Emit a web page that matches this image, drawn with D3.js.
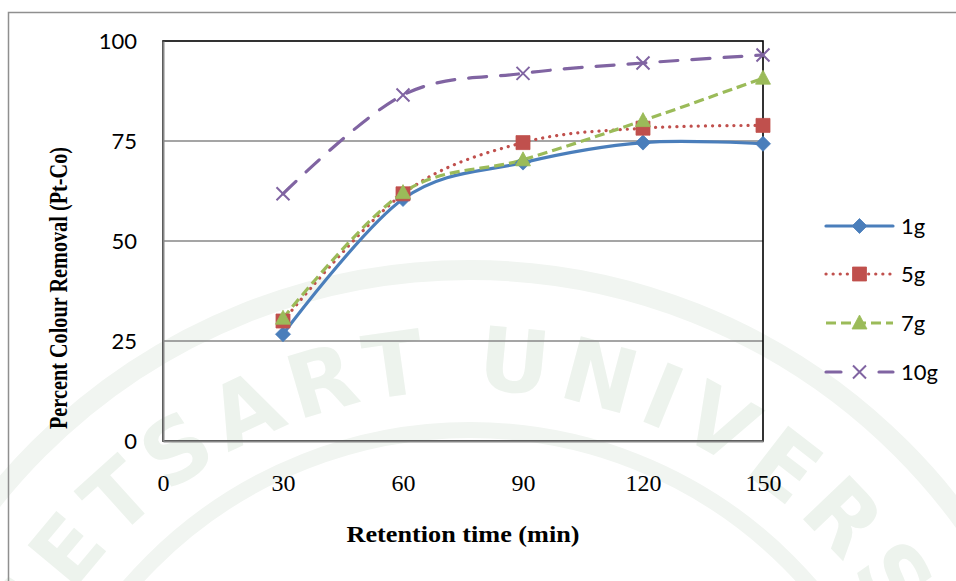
<!DOCTYPE html>
<html>
<head>
<meta charset="utf-8">
<script src="https://cdn.jsdelivr.net/npm/d3@7/dist/d3.min.js"></script>
<style>
  html, body { margin: 0; padding: 0; background: #fff; }
  svg { display: block; }
</style>
</head>
<body>
<svg id="chart" width="956" height="581"></svg>
<script>
// Retention time (min)
const times = [30, 60, 90, 120, 150];
// Percent colour removal for each adsorbent dose
const dose1g  = [26.7, 60.5, 69.6, 74.6, 74.3];
const dose5g  = [30.0, 61.8, 74.6, 78.2, 78.9];
const dose7g  = [30.7, 62.1, 70.3, 80.1, 90.7];
const dose10g = [61.8, 86.5, 91.9, 94.5, 96.5];
const seriesNames = ["1g", "5g", "7g", "10g"];
const xTicks = [0, 30, 60, 90, 120, 150];
const yTicks = [0, 25, 50, 75, 100];

const series = [
  { name: seriesNames[0], values: dose1g,  color: "#4a7ebb", dash: null,     cap: "round", marker: "diamond" },
  { name: seriesNames[1], values: dose5g,  color: "#c0504d", dash: "0.1 7",  cap: "round", marker: "square" },
  { name: seriesNames[2], values: dose7g,  color: "#9bbb59", dash: "10 5",   cap: "butt",  marker: "triangle" },
  { name: seriesNames[3], values: dose10g, color: "#8064a2", dash: "18 14",  cap: "round", marker: "x" }
];

const svg = d3.select("#chart");

// faint seal in the background
const seal = svg.append("g").attr("class", "seal");
const cx = 470, cy = 880;
[[610, 20], [450, 16]].forEach(([r, w]) => {
  seal.append("circle").attr("cx", cx).attr("cy", cy).attr("r", r)
    .attr("fill", "none").attr("stroke", "#f1f5f1").attr("stroke-width", w);
});
const arcR = 490;
seal.append("path")
  .attr("id", "sealArc")
  .attr("fill", "none")
  .attr("d", `M ${cx - arcR},${cy} A ${arcR},${arcR} 0 0 1 ${cx + arcR},${cy}`);
seal.append("text")
  .attr("font-family", "'DejaVu Sans', sans-serif")
  .attr("font-weight", "bold")
  .attr("font-size", 88)
  .attr("letter-spacing", 9)
  .attr("fill", "#edf3ed")
  .append("textPath")
  .attr("href", "#sealArc")
  .attr("startOffset", "50%")
  .attr("text-anchor", "middle")
  .text("KASETSART UNIVERSITY");

// outer frame
svg.append("path")
  .attr("d", "M 8.5,581 L 8.5,12.5 L 956,12.5")
  .attr("fill", "none")
  .attr("stroke", "#8f8f8f")
  .attr("stroke-width", 1.5);

const plot = { left: 163, right: 763, top: 41, bottom: 441 };

const x = d3.scaleLinear().domain([0, 150]).range([plot.left, plot.right]);
const y = d3.scaleLinear().domain([0, 100]).range([plot.bottom, plot.top]);

// gridlines
svg.append("g")
  .selectAll("line")
  .data(yTicks.filter(v => v > 0 && v < 100))
  .join("line")
  .attr("x1", plot.left).attr("x2", plot.right)
  .attr("y1", d => y(d)).attr("y2", d => y(d))
  .attr("stroke", "#878787")
  .attr("stroke-width", 1.5);

// plot-area frame
svg.append("rect")
  .attr("x", plot.left).attr("y", plot.top)
  .attr("width", plot.right - plot.left)
  .attr("height", plot.bottom - plot.top)
  .attr("fill", "none")
  .attr("stroke", "#000")
  .attr("stroke-width", 1.6);

// y axis
const yAxis = svg.append("g")
  .attr("transform", `translate(${plot.left},0)`)
  .call(d3.axisLeft(y).tickValues(yTicks).tickSize(0).tickPadding(26));
yAxis.select(".domain").attr("stroke", "#878787").attr("stroke-width", 2);
yAxis.selectAll("text")
  .attr("font-family", "Lato, 'Open Sans', sans-serif")
  .attr("font-size", 22)
  .attr("fill", "#000");

// x axis
const xAxis = svg.append("g")
  .attr("transform", `translate(0,${plot.bottom})`)
  .call(d3.axisBottom(x).tickValues(xTicks).tickSize(0).tickPadding(33));
xAxis.select(".domain").attr("stroke", "#878787").attr("stroke-width", 2);
xAxis.selectAll("text")
  .attr("font-family", "'Liberation Serif', 'Times New Roman', serif")
  .attr("font-size", 24)
  .attr("fill", "#000");

// axis titles
svg.append("text")
  .attr("x", 463).attr("y", 542)
  .attr("text-anchor", "middle")
  .attr("font-family", "'Liberation Serif', 'Times New Roman', serif")
  .attr("font-weight", "bold")
  .attr("font-size", 24)
  .attr("textLength", 233)
  .attr("lengthAdjust", "spacingAndGlyphs")
  .text("Retention time (min)");

svg.append("text")
  .attr("transform", "translate(67,288) rotate(-90)")
  .attr("text-anchor", "middle")
  .attr("font-family", "'Liberation Serif', 'Times New Roman', serif")
  .attr("font-weight", "bold")
  .attr("font-size", 25)
  .attr("textLength", 282)
  .attr("lengthAdjust", "spacingAndGlyphs")
  .text("Percent Colour Removal (Pt-Co)");

// marker shapes
function markerPath(kind) {
  switch (kind) {
    case "diamond":  return "M0,-7.5 L7.5,0 L0,7.5 L-7.5,0 Z";
    case "square":   return "M-7,-7 L7,-7 L7,7 L-7,7 Z";
    case "triangle": return "M0,-8 L7.5,6 L-7.5,6 Z";
    case "x":        return "M-6.5,-6.5 L6.5,6.5 M-6.5,6.5 L6.5,-6.5";
  }
}
function drawMarker(g, s, px, py) {
  const p = g.append("path")
    .attr("transform", `translate(${px},${py})`)
    .attr("d", markerPath(s.marker));
  if (s.marker === "x") {
    p.attr("fill", "none").attr("stroke", s.color).attr("stroke-width", 2);
  } else {
    p.attr("fill", s.color).attr("stroke", s.color).attr("stroke-width", 0.8);
  }
}

const line = d3.line()
  .x((d, i) => x(times[i]))
  .y(d => y(d))
  .curve(d3.curveCardinal.tension(0));

const seriesG = svg.append("g");
series.forEach(s => {
  seriesG.append("path")
    .datum(s.values)
    .attr("d", line)
    .attr("fill", "none")
    .attr("stroke", s.color)
    .attr("stroke-width", 3.2)
    .attr("stroke-linecap", s.cap)
    .attr("stroke-dasharray", s.dash);
});
series.forEach(s => {
  const g = seriesG.append("g");
  s.values.forEach((v, i) => drawMarker(g, s, x(times[i]), y(v)));
});

// legend
const legendY = [226, 274, 323, 372];
const legendDash = [null, "0.1 7", "10 5", "15 38"];
const legend = svg.append("g");
series.forEach((s, i) => {
  const ly = legendY[i];
  legend.append("line")
    .attr("x1", 826).attr("x2", 893)
    .attr("y1", ly).attr("y2", ly)
    .attr("stroke", s.color)
    .attr("stroke-width", 3.2)
    .attr("stroke-linecap", s.cap)
    .attr("stroke-dasharray", legendDash[i]);
  drawMarker(legend, s, 859.5, ly);
  legend.append("text")
    .attr("x", 901).attr("y", ly)
    .attr("dy", "0.35em")
    .attr("font-family", "Lato, 'Open Sans', sans-serif")
    .attr("font-size", 22)
    .attr("fill", "#000")
    .text(s.name);
});
</script>
</body>
</html>
